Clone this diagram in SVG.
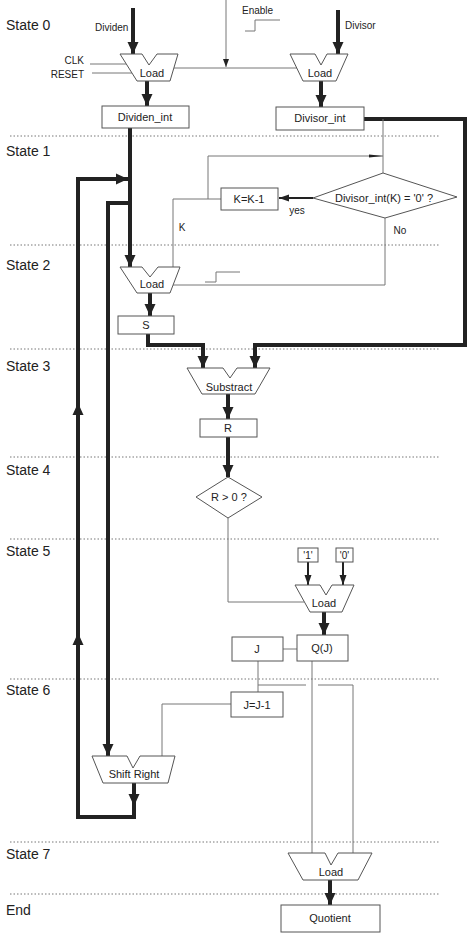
<svg xmlns="http://www.w3.org/2000/svg" width="468" height="933" viewBox="0 0 468 933">
<style>
text{font-family:"Liberation Sans",Arial,sans-serif;fill:#222}
.st{font-size:14px}
.lb{font-size:10px}
.nt{font-size:11px;text-anchor:middle}
.box{fill:#fff;stroke:#555;stroke-width:1}
.thick{fill:none;stroke:#222;stroke-width:4}
.med{fill:none;stroke:#222;stroke-width:2}
.thin{fill:none;stroke:#777;stroke-width:1}
.dot{stroke:#777;stroke-width:1;stroke-dasharray:1.5 2}
</style>
<defs>
<marker id="aT" markerUnits="userSpaceOnUse" markerWidth="12" markerHeight="12" viewBox="0 0 12 12" refX="12" refY="6" orient="auto"><path d="M0,0.5 L12,6 L0,11.5 z" fill="#222"/></marker>
<marker id="aM" markerUnits="userSpaceOnUse" markerWidth="10" markerHeight="8" viewBox="0 0 10 8" refX="10" refY="4" orient="auto"><path d="M0,0.5 L10,4 L0,7.5 z" fill="#222"/></marker>
<marker id="aS" markerUnits="userSpaceOnUse" markerWidth="8" markerHeight="6" viewBox="0 0 8 6" refX="8" refY="3" orient="auto"><path d="M0,0 L8,3 L0,6 z" fill="#222"/></marker>
<marker id="aL" markerUnits="userSpaceOnUse" markerWidth="14" markerHeight="6" viewBox="0 0 14 6" refX="14" refY="3" orient="auto"><path d="M0,1.5 L14,3 L0,4.5 z" fill="#222"/></marker>
</defs>

<g id="states">
<line class="dot" x1="10" y1="136" x2="440" y2="136"/>
<line class="dot" x1="10" y1="245" x2="440" y2="245"/>
<line class="dot" x1="10" y1="349" x2="440" y2="349"/>
<line class="dot" x1="10" y1="457" x2="440" y2="457"/>
<line class="dot" x1="10" y1="539" x2="440" y2="539"/>
<line class="dot" x1="10" y1="679" x2="440" y2="679"/>
<line class="dot" x1="10" y1="842" x2="440" y2="842"/>
<line class="dot" x1="10" y1="894" x2="440" y2="894"/>
<text class="st" x="6" y="30">State 0</text>
<text class="st" x="6" y="156">State 1</text>
<text class="st" x="6" y="270">State 2</text>
<text class="st" x="6" y="371">State 3</text>
<text class="st" x="6" y="475">State 4</text>
<text class="st" x="6" y="556">State 5</text>
<text class="st" x="6" y="695">State 6</text>
<text class="st" x="6" y="859">State 7</text>
<text class="st" x="6" y="915">End</text>
</g>

<g id="connectors">
<line class="thick" x1="133" y1="8" x2="133" y2="54" marker-end="url(#aT)"/>
<line class="thick" x1="338" y1="10" x2="338" y2="54" marker-end="url(#aT)"/>
<line class="thin" x1="226" y1="0" x2="226" y2="67" stroke="#222" marker-end="url(#aS)"/>
<line class="thin" x1="174" y1="68" x2="297" y2="68"/>
<line class="thin" x1="90" y1="64" x2="126" y2="64"/>
<line class="thin" x1="92" y1="73" x2="132" y2="73"/>
<line class="thick" x1="147" y1="81" x2="147" y2="106" marker-end="url(#aT)"/>
<line class="thick" x1="321" y1="81" x2="321" y2="107" marker-end="url(#aT)"/>
<line class="thick" x1="130" y1="128" x2="130" y2="267" marker-end="url(#aT)"/>
<polyline class="thick" points="130,203 108,203 108,756" marker-end="url(#aT)"/>
<line class="thick" x1="134" y1="783" x2="134" y2="806" marker-end="url(#aT)"/>
<polyline class="thick" points="134,804 134,817 78,817 78,179 128,179" marker-end="url(#aT)"/>
<line class="thick" x1="78" y1="650" x2="78" y2="633" marker-end="url(#aT)"/>
<line class="thick" x1="78" y1="420" x2="78" y2="403" marker-end="url(#aT)"/>
<polyline class="thick" points="364,119 465,119 465,345 255,345 255,368" marker-end="url(#aT)"/>
<line class="thin" x1="383" y1="119" x2="383" y2="173"/>
<polyline class="thin" points="208,199 208,156 383,156" marker-end="url(#aL)"/>
<line class="med" x1="313" y1="198" x2="279" y2="198" marker-end="url(#aM)"/>
<polyline class="thin" points="221,199 173,199 173,267"/>
<polyline class="thin" points="385,218 385,285 173,285"/>
<line class="thick" x1="150" y1="293" x2="150" y2="316" marker-end="url(#aT)"/>
<polyline class="thick" points="148,334 148,345 203,345 203,368" marker-end="url(#aT)"/>
<line class="thick" x1="228" y1="394" x2="228" y2="419" marker-end="url(#aT)"/>
<line class="thick" x1="228" y1="437" x2="228" y2="477" marker-end="url(#aT)"/>
<polyline class="thin" points="228,518 228,602 304,602"/>
<line class="med" x1="308" y1="562" x2="308" y2="585" marker-end="url(#aM)"/>
<line class="med" x1="343" y1="562" x2="343" y2="585" marker-end="url(#aM)"/>
<line class="thick" x1="324" y1="612" x2="324" y2="635" stroke-width="5" marker-end="url(#aT)"/>
<line class="thin" x1="283" y1="649" x2="297" y2="649"/>
<line class="thin" x1="258" y1="661" x2="258" y2="692"/>
<line class="thin" x1="258" y1="685" x2="306" y2="685"/>
<polyline class="thin" points="318,685 353,685 353,853" stroke="#999"/>
<line class="thin" x1="312" y1="661" x2="312" y2="853"/>
<polyline class="thin" points="231,704 162,704 162,756"/>
<line class="thick" x1="330" y1="880" x2="330" y2="905" marker-end="url(#aT)"/>
<polyline class="thin" points="245,31 255,31 255,20 280,20"/>
<polyline class="thin" points="205,282 216,282 216,272 240,272"/>
</g>

<g id="labels">
<text class="lb" x="95" y="31">Dividen</text>
<text class="lb" x="242" y="14">Enable</text>
<text class="lb" x="345" y="29">Divisor</text>
<text class="lb" x="84" y="64" text-anchor="end">CLK</text>
<text class="lb" x="84" y="78" text-anchor="end">RESET</text>
<text class="lb" x="297" y="214" text-anchor="middle">yes</text>
<text class="lb" x="182" y="231" text-anchor="middle">K</text>
<text class="lb" x="400" y="234" text-anchor="middle">No</text>
</g>

<g id="load0">
<path class="box" d="M120,54 L142,54 L149,65 L157,54 L178,54 L170,81 L137,81 Z"/>
<text class="nt" x="152" y="77">Load</text>
</g>
<g id="load1">
<path class="box" d="M290,54 L315,54 L321,65 L327,54 L348,54 L336,81 L303,81 Z"/>
<text class="nt" x="320" y="77">Load</text>
</g>
<g id="dividen_int">
<rect class="box" x="102" y="106" width="87" height="22"/>
<text class="nt" x="145" y="121">Dividen_int</text>
</g>
<g id="divisor_int">
<rect class="box" x="276" y="107" width="88" height="23"/>
<text class="nt" x="320" y="122">Divisor_int</text>
</g>
<g id="decision_k">
<path class="box" d="M313,198 L383,173 L457,197 L385,218 Z"/>
<text class="nt" x="384" y="202">Divisor_int(K) = '0' ?</text>
</g>
<g id="k_dec">
<rect class="box" x="221" y="188" width="57" height="22"/>
<text class="nt" x="249" y="203">K=K-1</text>
</g>
<g id="load2">
<path class="box" d="M120,267 L142,267 L150,277 L158,267 L180,267 L170,293 L137,293 Z"/>
<text class="nt" x="152" y="288">Load</text>
</g>
<g id="s">
<rect class="box" x="118" y="316" width="56" height="18"/>
<text class="nt" x="146" y="329">S</text>
</g>
<g id="substract">
<path class="box" d="M187,368 L223,368 L230,378 L237,368 L270,368 L255,394 L202,394 Z"/>
<text class="nt" x="229" y="391">Substract</text>
</g>
<g id="r">
<rect class="box" x="200" y="419" width="57" height="18"/>
<text class="nt" x="228" y="432">R</text>
</g>
<g id="decision_r">
<path class="box" d="M196,497 L228,477 L262,497 L228,518 Z"/>
<text class="nt" x="229" y="501">R &gt; 0 ?</text>
</g>
<g id="one">
<rect class="box" x="298" y="548" width="20" height="14"/>
<text class="lb" x="308" y="559" text-anchor="middle">'1'</text>
</g>
<g id="zero">
<rect class="box" x="336" y="548" width="17" height="14"/>
<text class="lb" x="344.5" y="559" text-anchor="middle">'0'</text>
</g>
<g id="load5">
<path class="box" d="M295,585 L320,585 L326,595 L332,585 L354,585 L342,612 L310,612 Z"/>
<text class="nt" x="324" y="607">Load</text>
</g>
<g id="qj">
<rect class="box" x="297" y="635" width="51" height="26"/>
<text class="nt" x="322" y="652">Q(J)</text>
</g>
<g id="j">
<rect class="box" x="232" y="637" width="51" height="24"/>
<text class="nt" x="257" y="653">J</text>
</g>
<g id="j_dec">
<rect class="box" x="231" y="692" width="52" height="25"/>
<text class="nt" x="257" y="709">J=J-1</text>
</g>
<g id="shift_right">
<path class="box" d="M92,756 L127,756 L133,768 L140,756 L175,756 L168,783 L103,783 Z"/>
<text class="nt" x="134" y="778">Shift Right</text>
</g>
<g id="load7">
<path class="box" d="M288,853 L325,853 L331,865 L338,853 L372,853 L358,880 L303,880 Z"/>
<text class="nt" x="331" y="876">Load</text>
</g>
<g id="quotient">
<rect class="box" x="281" y="905" width="99" height="27"/>
<text class="nt" x="330" y="922">Quotient</text>
</g>
</svg>
